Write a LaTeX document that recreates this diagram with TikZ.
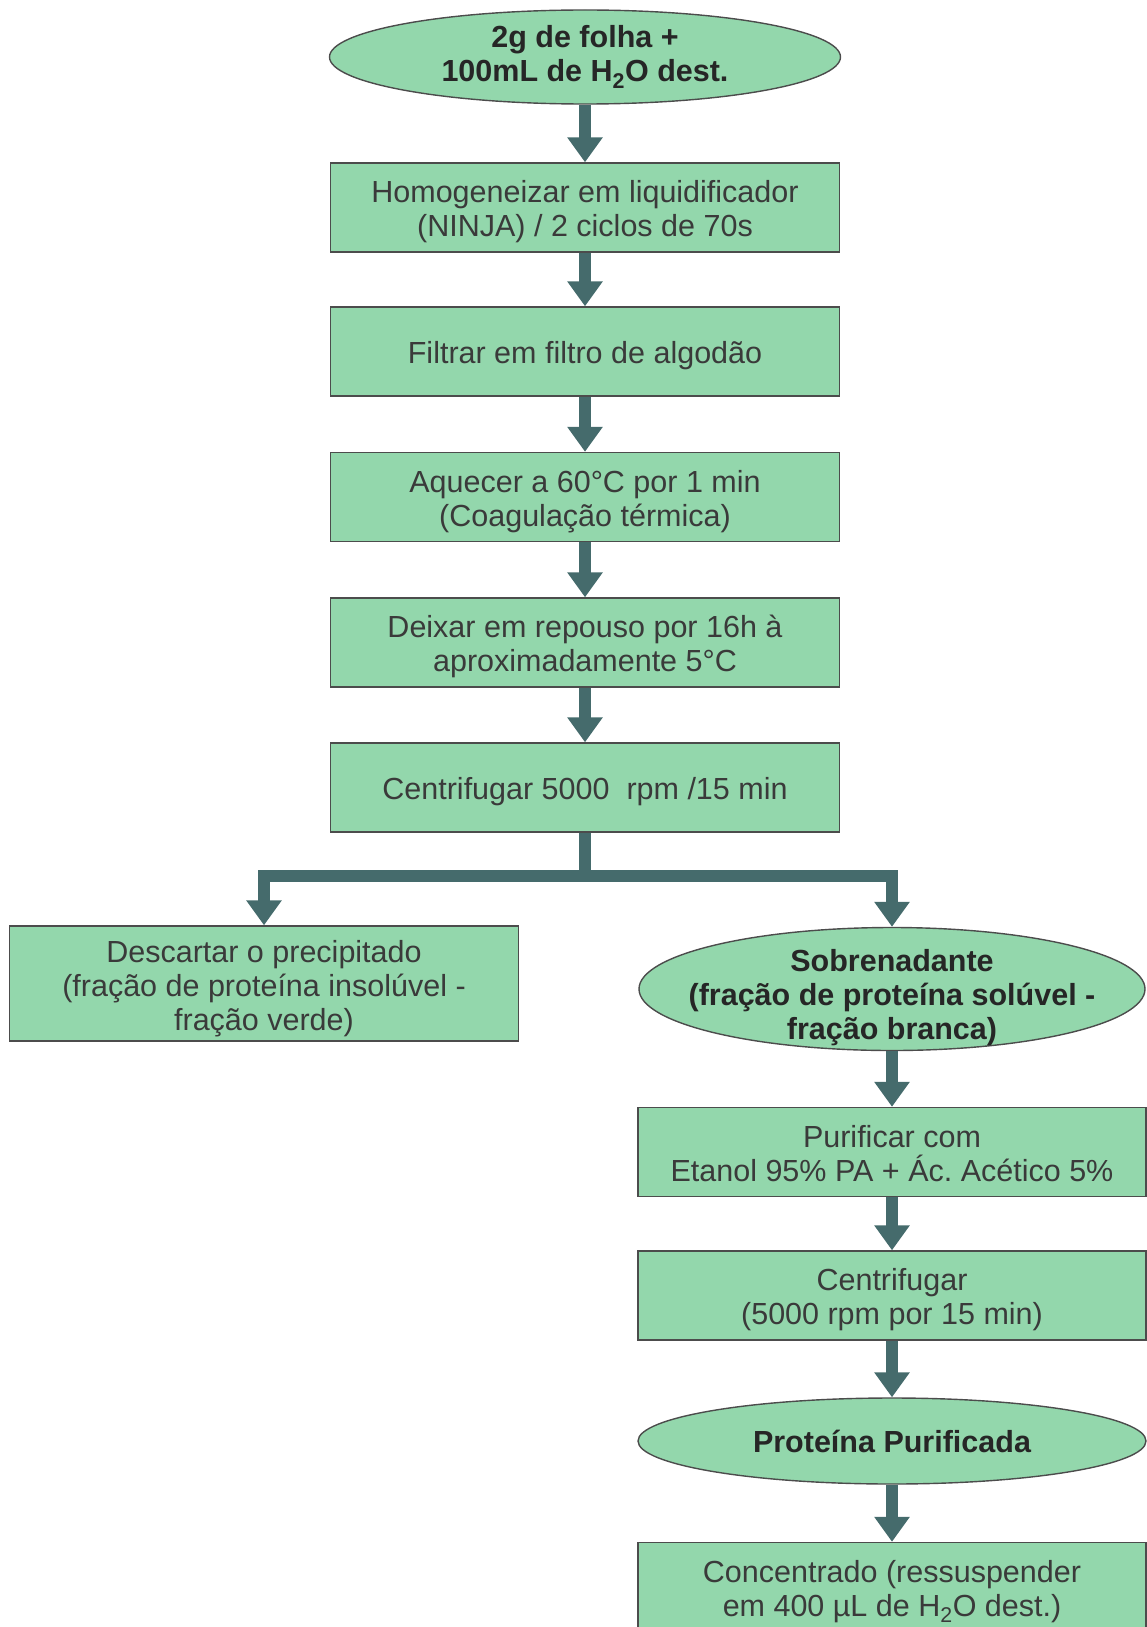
\documentclass[tikz,border=0pt]{standalone}
\usepackage{fontspec}
\setmainfont{Liberation Sans}
\usetikzlibrary{arrows.meta,shapes.geometric}

\definecolor{stepgreen}{RGB}{147,215,172}
\definecolor{arrowteal}{RGB}{69,107,108}
\definecolor{textgray}{RGB}{58,58,58}

\begin{document}
\begin{tikzpicture}[
    x=1pt, y=-1pt,
    box/.style={draw=black!70, line width=1.4pt, fill=stepgreen, text=textgray,
      minimum width=509pt, minimum height=89pt, align=center,
      font=\fontsize{30.5}{34}\selectfont, text height=31pt, text depth=7pt},
    twolines/.style={text height=65pt},
    oval/.style={ellipse, draw=black!70, line width=1.4pt, fill=stepgreen, text=black!85,
      inner xsep=-60pt, inner ysep=-30pt, align=center,
      font=\fontsize{30.5}{34}\selectfont\bfseries},
    flow/.style={draw=arrowteal, line width=12.3pt, -{Triangle[width=34pt,length=25pt]}}
  ]
  \useasboundingbox (0,0) rectangle (1146,1627);

  % main column
  \node[oval, minimum width=511pt, minimum height=94pt] (leaf) at (585,57) {2g de folha +\\100mL de H\textsubscript{2}O dest.};
  \node[box, twolines] (blend) at (585,207.5) {Homogeneizar em liquidificador\\(NINJA) / 2 ciclos de 70s};
  \node[box] (filter) at (585,351.5) {Filtrar em filtro de algodão};
  \node[box, twolines] (heat) at (585,497) {Aquecer a 60°C por 1 min\\(Coagulação térmica)};
  \node[box, twolines] (rest) at (585,642.5) {Deixar em repouso por 16h à\\aproximadamente 5°C};
  \node[box] (spin) at (585,787.5) {Centrifugar 5000~~rpm /15 min};

  % split
  \node[box, minimum height=115pt, text height=101pt] (discard) at (264,983.5) {Descartar o precipitado\\(fração de proteína insolúvel -\\fração verde)};
  \node[oval, minimum width=506pt, minimum height=123pt, text height=107pt, text depth=7pt] (super) at (892,989) {Sobrenadante\\(fração de proteína solúvel -\\fração branca)};

  % right column
  \node[box, twolines, minimum width=508pt] (purify) at (892,1152) {Purificar com\\Etanol 95\% PA + Ác.\ Acético 5\%};
  \node[box, twolines, minimum width=508pt] (spintwo) at (892,1295.5) {Centrifugar\\(5000 rpm por 15 min)};
  \node[oval, minimum width=508pt, minimum height=86pt] (pure) at (892,1441) {Proteína Purificada};
  \node[box, twolines, minimum width=508pt] (conc) at (892,1587) {Concentrado (ressuspender\\em 400 µL de H\textsubscript{2}O dest.)};

  \draw[flow] (leaf) -- (blend);
  \draw[flow] (blend) -- (filter);
  \draw[flow] (filter) -- (heat);
  \draw[flow] (heat) -- (rest);
  \draw[flow] (rest) -- (spin);
  \draw[flow] (spin.south) -- ++(0,43) -| (discard.north);
  \draw[flow] (spin.south) -- ++(0,43) -| (super.north);
  \draw[flow] (super) -- (purify);
  \draw[flow] (purify) -- (spintwo);
  \draw[flow] (spintwo) -- (pure);
  \draw[flow] (pure) -- (conc);
\end{tikzpicture}
\end{document}
